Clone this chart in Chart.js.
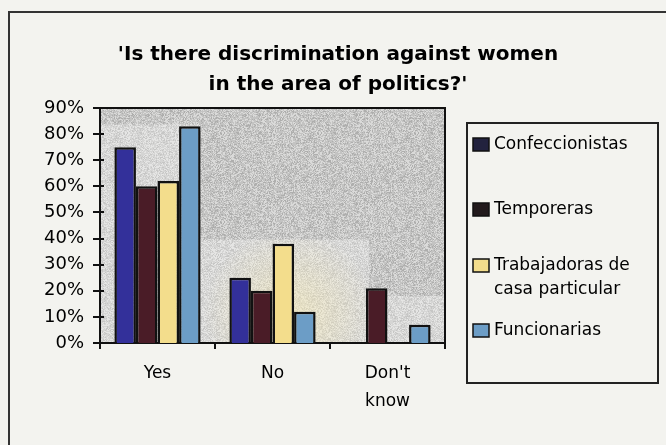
<!DOCTYPE html>
<html>
<head>
<meta charset="utf-8">
<script src="https://cdn.jsdelivr.net/npm/chart.js@4/dist/chart.umd.min.js"></script>
<style>
  body { margin: 0; background: #f3f3ef; }
  #grafico { display: block; }
</style>
</head>
<body>
<canvas id="grafico" width="666" height="445"></canvas>
<script>
// respuestas por grupo de trabajadoras (%)
var categorias = ["Yes", "No", ["Don't", "know"]];
var grupos = ["Confeccionistas", "Temporeras", "Trabajadoras de casa particular", "Funcionarias"];
var confeccionistas = [75, 25, 0];
var temporeras = [60, 20, 21];
var trabajadoras = [62, 38, 0];
var funcionarias = [83, 12, 7];
var yTicks = [0, 10, 20, 30, 40, 50, 60, 70, 80, 90];

var cores = ["#33309a", "#4a1c27", "#f3dd8c", "#6c9dc6"];
var coresLegenda = ["#22223e", "#221a1c", "#f3dd8c", "#6c9dc6"];
var fonte = "'DejaVu Sans', sans-serif";

// textura moteada do fundo da área do gráfico
function criarTextura(ctx) {
    var c = document.createElement("canvas");
    c.width = 97; c.height = 89;
    var g = c.getContext("2d");
    var img = g.createImageData(c.width, c.height);
    var s = 12345;
    for (var i = 0; i < c.width * c.height; i++) {
        s = (s * 1103515245 + 12345) & 0x7fffffff;
        var r = (s >> 8) % 100;
        var v = r < 20 ? 174 : (r < 50 ? 218 : 195);
        img.data[i * 4] = v;
        img.data[i * 4 + 1] = v;
        img.data[i * 4 + 2] = v - 1;
        img.data[i * 4 + 3] = 255;
    }
    g.putImageData(img, 0, 0);
    return ctx.createPattern(c, "repeat");
}

var fundoPlot = {
    id: "fundoPlot",
    beforeDraw: function(chart) {
        var ctx = chart.ctx, a = chart.chartArea;
        var w = a.right - a.left, h = a.bottom - a.top;
        ctx.save();
        ctx.fillStyle = "#f3f3ef";
        ctx.fillRect(0, 0, chart.width, chart.height);
        // moldura externa
        ctx.strokeStyle = "#333";
        ctx.lineWidth = 2;
        ctx.beginPath();
        ctx.moveTo(9, chart.height);
        ctx.lineTo(9, 12);
        ctx.lineTo(chart.width, 12);
        ctx.stroke();

        ctx.fillStyle = criarTextura(ctx);
        ctx.fillRect(a.left, a.top, w, h);
        // zonas mais claras
        ctx.fillStyle = "rgba(255,255,255,0.3)";
        ctx.fillRect(a.left, a.top + h * 0.07, w * 0.29, h * 0.93);
        ctx.fillRect(a.left + w * 0.29, a.top + h * 0.56, w * 0.49, h * 0.44);
        ctx.fillRect(a.left + w * 0.78, a.top + h * 0.8, w * 0.22, h * 0.2);
        var grad = ctx.createRadialGradient(a.left + w * 0.55, a.bottom - h * 0.12, 5, a.left + w * 0.55, a.bottom - h * 0.12, w * 0.25);
        grad.addColorStop(0, "rgba(250,235,170,0.45)");
        grad.addColorStop(1, "rgba(250,235,170,0)");
        ctx.fillStyle = grad;
        ctx.fillRect(a.left + w * 0.29, a.top + h * 0.56, w * 0.49, h * 0.44);
        ctx.restore();
    },
    afterDatasetsDraw: function(chart) {
        var ctx = chart.ctx, a = chart.chartArea;
        var y = chart.scales.y;
        ctx.save();
        ctx.strokeStyle = "#111";
        ctx.lineWidth = 2;
        ctx.beginPath();
        ctx.moveTo(a.left, a.top);
        ctx.lineTo(a.right, a.top);
        ctx.lineTo(a.right, a.bottom);
        ctx.stroke();
        // marcas do eixo y cruzando a linha
        yTicks.forEach(function(v) {
            var py = Math.round(y.getPixelForValue(v));
            ctx.beginPath();
            ctx.moveTo(a.left - 7, py);
            ctx.lineTo(a.left + 4, py);
            ctx.stroke();
        });
        ctx.restore();
    },
    afterDraw: function(chart) {
        // legenda em caixa à direita
        var ctx = chart.ctx;
        var x0 = 467, y0 = 123, x1 = 658, y1 = 383;
        ctx.save();
        ctx.strokeStyle = "#222";
        ctx.lineWidth = 2;
        ctx.strokeRect(x0, y0, x1 - x0, y1 - y0);
        ctx.font = "17px " + fonte;
        ctx.textBaseline = "middle";
        var linhas = [["Confeccionistas"], ["Temporeras"], ["Trabajadoras de", "casa particular"], ["Funcionarias"]];
        var posY = [145, 210, 266, 331];
        chart.data.datasets.forEach(function(ds, i) {
            var py = posY[i];
            ctx.fillStyle = coresLegenda[i];
            ctx.fillRect(473, py - 7, 16, 13);
            ctx.strokeStyle = "#111";
            ctx.lineWidth = 1.5;
            ctx.strokeRect(473, py - 7, 16, 13);
            ctx.fillStyle = "#000";
            linhas[i].forEach(function(t, k) {
                ctx.fillText(t, 494, py + k * 24);
            });
        });
        ctx.restore();
    }
};

var ctx = document.getElementById("grafico").getContext("2d");
var meuGrafico = new Chart(ctx, {
    type: "bar",
    data: {
        labels: categorias,
        datasets: [
            { label: grupos[0], data: confeccionistas, backgroundColor: cores[0] },
            { label: grupos[1], data: temporeras, backgroundColor: cores[1] },
            { label: grupos[2], data: trabajadoras, backgroundColor: cores[2] },
            { label: grupos[3], data: funcionarias, backgroundColor: cores[3] }
        ]
    },
    options: {
        responsive: false,
        animation: false,
        layout: { padding: { left: 10, right: 0, top: 0, bottom: 0 } },
        datasets: {
            bar: {
                categoryPercentage: 0.75,
                barPercentage: 1.0,
                borderColor: "#111",
                borderWidth: 2.5
            }
        },
        plugins: {
            legend: { display: false },
            tooltip: { enabled: false },
            title: {
                display: true,
                text: ["'Is there discrimination against women", "in the area of politics?'"],
                color: "#000",
                font: { family: fonte, size: 20, weight: "bold", lineHeight: 1.5 },
                padding: { top: 40, bottom: 8 }
            }
        },
        scales: {
            x: {
                afterFit: function(scale) { scale.height = 102; },
                grid: { display: true, drawOnChartArea: false, offset: true, tickLength: 6, color: "#111", lineWidth: 2 },
                border: { display: true, color: "#111", width: 2 },
                ticks: { color: "#000", padding: 11, font: { family: fonte, size: 17, lineHeight: 1.65 } }
            },
            y: {
                min: 0,
                max: 90,
                afterFit: function(scale) { scale.width = 90; },
                grid: { display: false, drawTicks: false },
                border: { display: true, color: "#111", width: 2 },
                ticks: {
                    stepSize: 10,
                    padding: 16,
                    color: "#000",
                    font: { family: fonte, size: 18 },
                    callback: function(v) { return v + "%"; }
                }
            },
            // espaço reservado à direita para a caixa da legenda
            espaco: {
                position: "right",
                afterFit: function(scale) { scale.width = 221; },
                grid: { display: false },
                border: { display: false },
                ticks: { display: false }
            }
        }
    },
    plugins: [fundoPlot]
});
</script>
</body>
</html>
